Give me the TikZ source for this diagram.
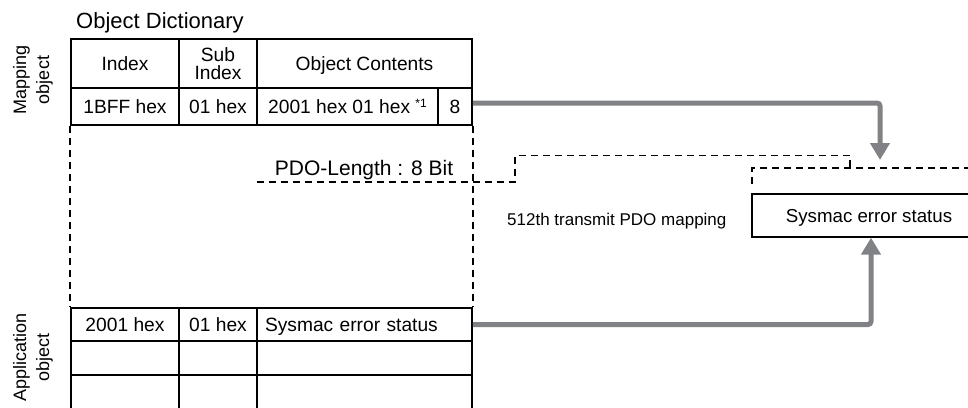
\documentclass[tikz,border=0pt]{standalone}
\usepackage{fontspec}
\setmainfont{Liberation Sans}
\usetikzlibrary{arrows.meta, positioning}
\definecolor{arrowgray}{RGB}{128,130,134}

\begin{document}
\begin{tikzpicture}[
    x=1pt, y=-1pt,
    >=Stealth,
    cell/.style={draw, line width=1.8pt, inner sep=0pt,
                 font=\fontsize{19.2}{17}\selectfont},
    cellt/.style={cell, text height=13.7pt, text depth=0pt},
    side/.style={rotate=90, align=center, inner sep=0pt,
                 font=\fontsize{18}{23}\selectfont},
    label/.style={inner sep=0pt, font=\fontsize{22}{24}\selectfont},
    pdoline/.style={line width=1.3pt, dash pattern=on 7pt off 5pt},
    feed/.style={line width=5pt, draw=arrowgray, rounded corners=3pt,
                 -{Triangle[length=17pt, width=19pt]}}
  ]
  \path[use as bounding box, clip] (0,0) rectangle (968,407);

  % Title and side labels
  \node[label, anchor=base west] (odTitle) at (76,28) {Object Dictionary};
  \node[side] (sideMap) at (33,80) {Mapping\\object};
  \node[side] (sideApp) at (33,357.5) {Application\\object};

  % Header row
  \node[cellt, minimum width=108, minimum height=49] (hIdx) at (125,63.5) {Index};
  \node[cell, minimum width=78, minimum height=49, align=center,
        font=\fontsize{19.2}{18.5}\selectfont] (hSub) at (218,63.5) {Sub\\Index};
  \node[cellt, minimum width=215, minimum height=49] (hObj) at (364.5,63.5) {Object Contents};

  % Mapping object row
  \node[cellt, minimum width=108, minimum height=37] (mIdx) at (125,106.5) {1BFF hex};
  \node[cellt, minimum width=78, minimum height=37] (mSub) at (218,106.5) {01 hex};
  \node[cellt, minimum width=181, minimum height=37] (mObj) at (347.5,106.5)
    {2001 hex 01 hex {\fontsize{12}{12}\selectfont\raisebox{6pt}{*1}}};
  \node[cellt, minimum width=34, minimum height=37] (mLen) at (455,106.5) {8};

  % Application object rows
  \node[cellt, minimum width=108, minimum height=33] (aIdx) at (125,324.5) {2001 hex};
  \node[cellt, minimum width=78, minimum height=33] (aSub) at (218,324.5) {01 hex};
  \node[cellt, minimum width=215, minimum height=33, inner xsep=8pt,
        text width=199, align=left] (aObj) at (364.5,324.5) {Sysmac error status};
  \foreach \r/\yy in {2/358, 3/392} {
    \node[cell, minimum width=108, minimum height=34] (aIdx\r) at (125,\yy) {};
    \node[cell, minimum width=78, minimum height=34] (aSub\r) at (218,\yy) {};
    \node[cell, minimum width=215, minimum height=34] (aObj\r) at (364.5,\yy) {};
  }

  % Omitted part of the dictionary
  \draw[pdoline] (mIdx.south west) -- (aIdx.north west);
  \draw[pdoline] (mLen.south east) -- (aObj.north east);

  % PDO length
  \node[label, anchor=base, font=\fontsize{21}{24}\selectfont] (pdoLen)
    at (364,175) {PDO-Length : 8 Bit};
  \draw[pdoline] (257,182) -- (515,182) -- (515,155.5) -- (850,155.5) -- (850,168);
  \draw[pdoline] (752,184) -- (752,168) -- (975,168);

  % Transmit PDO
  \node[label, anchor=base west, font=\fontsize{17}{20}\selectfont] (mapName)
    at (507,225) {512th transmit PDO mapping};
  \node[draw, line width=1.3pt, minimum width=234, minimum height=43,
        text height=13.3pt, text depth=0pt,
        font=\fontsize{18.7}{22}\selectfont] (sysBox) at (869,215.5) {Sysmac error status};

  % Mapping arrows
  \coordinate (mapTip) at (880,160);
  \draw[feed] ([yshift=3.5pt]mLen.east) -| (mapTip);
  \draw[feed] (aObj.east) -| ([xshift=2pt]sysBox.south);
\end{tikzpicture}
\end{document}
